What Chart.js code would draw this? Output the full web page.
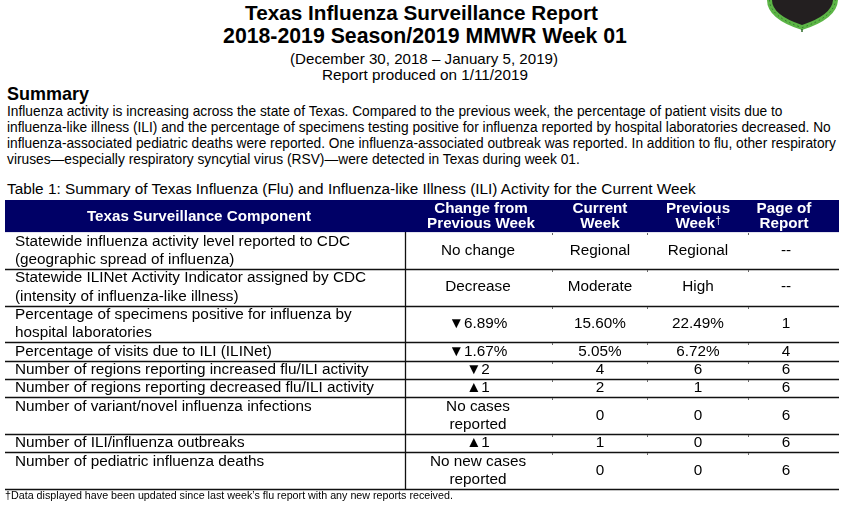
<!DOCTYPE html>
<html><head><meta charset="utf-8">
<script src="https://cdn.jsdelivr.net/npm/chart.js@4.4.1/dist/chart.umd.min.js"></script>
<style>
html,body{margin:0;padding:0;background:#fff;width:858px;height:511px;overflow:hidden;}
body{position:relative;font-family:"Liberation Sans",Arial,Helvetica,sans-serif;color:#000;}
.t{position:absolute;white-space:nowrap;line-height:1;display:inline-block;}
.b{font-weight:bold;}
#wrap{position:absolute;left:0;top:190px;width:858px;height:310px;}
#logo{position:absolute;left:0;top:0;}
</style></head><body>
<svg id="logo" width="858" height="40" viewBox="0 0 858 40">
  <path d="M767,0 L838,0 Q837,19 802,30 Q767,19 767,0 Z" fill="#5cb546"/>
  <path d="M769.5,0 Q770,17 802,27.6 Q834,17 835.5,0" fill="none" stroke="#2e6b2a" stroke-width="0.9" stroke-dasharray="1.5 3"/>
  <path d="M772,0 L833,0 Q832,15 802,25 Q772,15 772,0 Z" fill="#231f20"/>
  <path d="M802,29 L802,32" stroke="#2e6b2a" stroke-width="1.5"/>
</svg>
<div class="t b" data-cx="421.5" data-cy="13" data-w="353" style="font-size:20.5px">Texas Influenza Surveillance Report</div>
<div class="t b" data-cx="425" data-cy="36.3" data-w="404" style="font-size:20.5px">2018-2019 Season/2019 MMWR Week 01</div>
<div class="t" data-cx="424" data-cy="59" data-w="268" style="font-size:14.5px">(December 30, 2018 – January 5, 2019)</div>
<div class="t" data-cx="425" data-cy="75" data-w="206" style="font-size:14.5px">Report produced on 1/11/2019</div>
<div class="t b" data-l="7" data-cy="94.3" data-w="82" style="font-size:18px">Summary</div>
<div class="t" data-l="7" data-cy="112.3" data-w="776" style="font-size:13.5px">Influenza activity is increasing across the state of Texas. Compared to the previous week, the percentage of patient visits due to</div>
<div class="t" data-l="7" data-cy="128.3" data-w="824" style="font-size:13.5px">influenza-like illness (ILI) and the percentage of specimens testing positive for influenza reported by hospital laboratories decreased. No</div>
<div class="t" data-l="7" data-cy="144" data-w="829" style="font-size:13.5px">influenza-associated pediatric deaths were reported. One influenza-associated outbreak was reported. In addition to flu, other respiratory</div>
<div class="t" data-l="7" data-cy="160" data-w="573" style="font-size:13.5px">viruses—especially respiratory syncytial virus (RSV)—were detected in Texas during week 01.</div>
<div class="t" data-l="7" data-cy="188.3" data-w="689" style="font-size:14.5px">Table 1: Summary of Texas Influenza (Flu) and Influenza-like Illness (ILI) Activity for the Current Week</div>
<div id="wrap"><canvas id="c" width="858" height="310"></canvas></div>
<div class="t" data-l="5" data-cy="495" data-w="448" style="font-size:10px">†Data displayed have been updated since last week’s flu report with any new reports received.</div>
<script>
// ---- data ----
const headerLabels = [
  ["Texas Surveillance Component"],
  ["Change from", "Previous Week"],
  ["Current", "Week"],
  ["Previous", "Week†"],
  ["Page of", "Report"]
];
const components = [
  ["Statewide influenza activity level reported to CDC", "(geographic spread of influenza)"],
  ["Statewide ILINet Activity Indicator assigned by CDC", "(intensity of influenza-like illness)"],
  ["Percentage of specimens positive for influenza by", "hospital laboratories"],
  ["Percentage of visits due to ILI (ILINet)"],
  ["Number of regions reporting increased flu/ILI activity"],
  ["Number of regions reporting decreased flu/ILI activity"],
  ["Number of variant/novel influenza infections"],
  ["Number of ILI/influenza outbreaks"],
  ["Number of pediatric influenza deaths"]
];
const changeFromPrevious = [
  ["No change"], ["Decrease"], ["▼6.89%"], ["▼1.67%"], ["▼2"], ["▲1"],
  ["No cases", "reported"], ["▲1"], ["No new cases", "reported"]
];
const currentWeek = ["Regional", "Moderate", "15.60%", "5.05%", "4", "2", "0", "1", "0"];
const previousWeek = ["Regional", "High", "22.49%", "6.72%", "6", "1", "0", "0", "0"];
const pageOfReport = ["--", "--", "1", "4", "6", "6", "6", "6", "6"];

// ---- layout (not data) ----
const TABLE_W = 834;          // x-scale units, relative to table left edge
const FIRST_COL_RIGHT = 400;
const FIRST_COL_PAD = 10;
const HEADER_CENTERS = [194, 476, 595, 693, 779];
const COL_CENTERS = [null, 473, 595, 693, 781];
const COL_MARKS = [547, 642, 743];
const HEADER_UNITS = 1.75;
const HEADER_LINE_PX = 15;
const FONT = "'Liberation Sans', Arial, Helvetica, sans-serif";

const rowLines = components.map((c, i) => Math.max(c.length, changeFromPrevious[i].length));
const rowStarts = [];
rowLines.reduce((acc, n) => { rowStarts.push(acc); return acc + n; }, 0);
const totalLines = rowLines.reduce((a, b) => a + b, 0);

function drawHeaderText(ctx, s, cx, cy) {
  // trailing dagger drawn as a small superscript mark
  if (s.endsWith('†')) {
    const base = s.slice(0, -1);
    ctx.font = 'bold 15.2px ' + FONT;
    const wb = ctx.measureText(base).width;
    ctx.font = '10px ' + FONT;
    const wd = ctx.measureText('†').width;
    const left = cx - (wb + wd) / 2;
    ctx.textAlign = 'left';
    ctx.font = 'bold 15.2px ' + FONT;
    ctx.fillText(base, left, cy);
    ctx.font = '10px ' + FONT;
    ctx.fillText('†', left + wb + 0.5, cy - 3);
    ctx.textAlign = 'center';
    ctx.font = 'bold 15.2px ' + FONT;
  } else {
    ctx.fillText(s, cx, cy);
  }
}

const tablePlugin = {
  id: 'tableDraw',
  afterDraw(chart) {
    const ctx = chart.ctx;
    const xs = chart.scales.x, ys = chart.scales.y;
    const X = v => xs.getPixelForValue(v);
    const Y = v => ys.getPixelForValue(v);
    ctx.save();
    // header band
    ctx.fillStyle = '#000066';
    const hTop = Y(-HEADER_UNITS), hBot = Y(0);
    ctx.fillRect(X(0), hTop, X(TABLE_W) - X(0), hBot - hTop);
    ctx.fillStyle = '#ffffff';
    ctx.font = 'bold 15.2px ' + FONT;
    ctx.textAlign = 'center';
    ctx.textBaseline = 'middle';
    const hMid = Y(-HEADER_UNITS / 2);
    headerLabels.forEach((lines, c) => {
      lines.forEach((s, i) => {
        const off = (i - (lines.length - 1) / 2) * HEADER_LINE_PX;
        drawHeaderText(ctx, s, X(HEADER_CENTERS[c]), hMid + off + 0.5);
      });
    });
    // row borders
    ctx.strokeStyle = '#111';
    ctx.lineWidth = 1.3;
    rowStarts.forEach((s, r) => {
      const yb = Math.round(Y(s + rowLines[r])) + 0.5;
      ctx.beginPath(); ctx.moveTo(X(0), yb); ctx.lineTo(X(TABLE_W), yb); ctx.stroke();
    });
    ctx.beginPath();
    const xv = Math.round(X(FIRST_COL_RIGHT)) + 0.5;
    ctx.moveTo(xv, hBot); ctx.lineTo(xv, Math.round(Y(totalLines)) + 1); ctx.stroke();
    // tiny column marks under each border
    ctx.fillStyle = '#666';
    [0].concat(rowStarts.map((s, r) => s + rowLines[r])).forEach(v => {
      if (v === totalLines) return;
      COL_MARKS.forEach(m => ctx.fillRect(Math.round(X(m)), Math.round(Y(v)) + 1, 1, 2));
    });
    // cell text
    ctx.fillStyle = '#000';
    ctx.font = '15.3px ' + FONT;
    rowStarts.forEach((s, r) => {
      ctx.textAlign = 'left';
      components[r].forEach((line, i) => {
        ctx.fillText(line, X(FIRST_COL_PAD), Y(s + i + 0.5));
      });
      ctx.textAlign = 'center';
      const cols = [changeFromPrevious[r], [currentWeek[r]], [previousWeek[r]], [pageOfReport[r]]];
      cols.forEach((lines, k) => {
        const start = s + (rowLines[r] - lines.length) / 2;
        lines.forEach((line, i) => {
          ctx.fillText(line, X(COL_CENTERS[k + 1]), Y(start + i + 0.5));
        });
      });
    });
    ctx.restore();
  }
};

function layoutText() {
  document.querySelectorAll('.t').forEach(el => {
    const w = parseFloat(el.dataset.w);
    let fs = parseFloat(getComputedStyle(el).fontSize);
    const cur = el.getBoundingClientRect().width;
    if (cur > 0) { fs = fs * w / cur; el.style.fontSize = fs.toFixed(2) + 'px'; }
    const r = el.getBoundingClientRect();
    const cy = parseFloat(el.dataset.cy);
    el.style.top = (cy - r.height / 2) + 'px';
    if (el.dataset.cx !== undefined) el.style.left = (parseFloat(el.dataset.cx) - r.width / 2) + 'px';
    else el.style.left = el.dataset.l + 'px';
  });
}

function start() {
  layoutText();
  new Chart(document.getElementById('c'), {
    type: 'scatter',
    data: { datasets: [] },
    options: {
      responsive: false,
      animation: false,
      events: [],
      layout: { padding: { left: 5, right: 19, top: 10, bottom: 11 } },
      plugins: { legend: { display: false }, tooltip: { enabled: false } },
      scales: {
        x: { type: 'linear', display: false, min: 0, max: TABLE_W },
        y: { type: 'linear', display: false, reverse: true, min: -HEADER_UNITS, max: totalLines }
      }
    },
    plugins: [tablePlugin]
  });
}
if (document.fonts && document.fonts.ready) document.fonts.ready.then(start); else start();
</script>
</body></html>
